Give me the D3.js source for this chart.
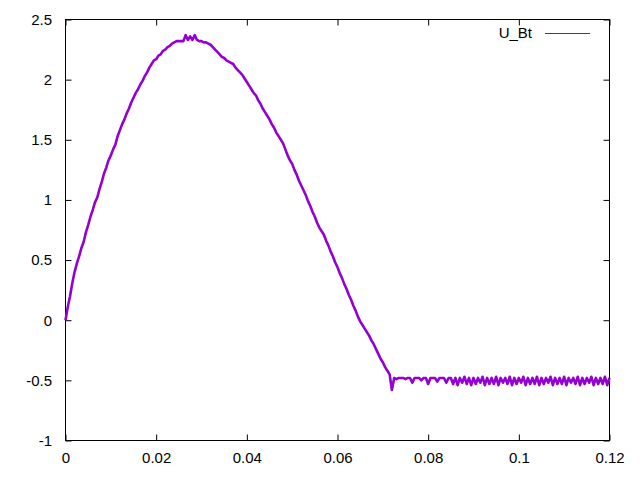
<!DOCTYPE html>
<html>
<head>
<meta charset="utf-8">
<script src="https://cdn.jsdelivr.net/npm/d3@7"></script>
<style>
html, body { margin: 0; padding: 0; background: #fff; }
svg { display: block; }
text { font-family: "Liberation Sans", Arial, sans-serif; }
</style>
</head>
<body>
<svg id="chart" width="640" height="480"></svg>
<script>
// ---- data ----
const seriesName = "U_Bt";
const sampleStep = 0.0005;        // seconds between samples
const uBt = [
  0.00, 0.11, 0.20, 0.31, 0.40, 0.47, 0.53, 0.60, 0.65, 0.73,
  0.79, 0.86, 0.915, 0.98, 1.02, 1.09, 1.15, 1.22, 1.27, 1.33,
  1.37, 1.42, 1.46, 1.53, 1.58, 1.63, 1.67, 1.72, 1.76, 1.81,
  1.85, 1.89, 1.92, 1.96, 1.99, 2.03, 2.06, 2.10, 2.13, 2.16,
  2.17, 2.20, 2.21, 2.24, 2.25, 2.27, 2.28, 2.30, 2.31, 2.32,
  2.32, 2.32, 2.32, 2.37, 2.33, 2.36, 2.33, 2.37, 2.33, 2.32,
  2.32, 2.31, 2.31, 2.30, 2.29, 2.27, 2.25, 2.23, 2.21, 2.19,
  2.18, 2.16, 2.15, 2.14, 2.13, 2.10, 2.08, 2.06, 2.04, 2.01,
  1.98, 1.95, 1.92, 1.89, 1.87, 1.83, 1.80, 1.76, 1.73, 1.70,
  1.67, 1.63, 1.60, 1.56, 1.53, 1.50, 1.47, 1.42, 1.37, 1.33,
  1.30, 1.25, 1.21, 1.16, 1.12, 1.08, 1.04, 0.99, 0.95, 0.90,
  0.86, 0.81, 0.77, 0.74, 0.71, 0.66, 0.62, 0.57, 0.53, 0.48,
  0.44, 0.39, 0.35, 0.30, 0.26, 0.21, 0.17, 0.12, 0.08, 0.03,
  -0.01, -0.04, -0.07, -0.10, -0.13, -0.17, -0.20, -0.24, -0.28, -0.32,
  -0.35, -0.39, -0.42, -0.45, -0.58, -0.48, -0.49, -0.48, -0.48, -0.48,
  -0.49, -0.48, -0.48, -0.52, -0.48, -0.48, -0.48, -0.50, -0.48, -0.48,
  -0.53, -0.48, -0.48, -0.48, -0.51, -0.48, -0.48, -0.48, -0.52, -0.48,
  -0.48, -0.53, -0.48, -0.54, -0.48, -0.52, -0.47, -0.53, -0.48, -0.54,
  -0.48, -0.53, -0.48, -0.52, -0.47, -0.54, -0.48, -0.53, -0.48, -0.53,
  -0.47, -0.54, -0.48, -0.52, -0.48, -0.53, -0.47, -0.54, -0.48, -0.53,
  -0.48, -0.52, -0.47, -0.54, -0.48, -0.53, -0.48, -0.53, -0.47, -0.54,
  -0.48, -0.53, -0.48, -0.52, -0.47, -0.54, -0.48, -0.53, -0.48, -0.53,
  -0.47, -0.54, -0.48, -0.52, -0.48, -0.53, -0.47, -0.54, -0.48, -0.53,
  -0.48, -0.52, -0.47, -0.54, -0.48, -0.53, -0.48, -0.53, -0.47, -0.54,
  -0.48
];
const xTicks = [0, 0.02, 0.04, 0.06, 0.08, 0.1, 0.12];
const yTicks = [-1, -0.5, 0, 0.5, 1, 1.5, 2, 2.5];
const xDomain = [0, 0.12];
const yDomain = [-1, 2.5];

// ---- layout ----
const m = { left: 65.5, right: 609.5, top: 19.5, bottom: 440.5 };
const lineColor = "#9400d3";
const fontSize = 15;
const tickLen = 6;

const svg = d3.select("#chart");
const x = d3.scaleLinear().domain(xDomain).range([m.left, m.right]);
const y = d3.scaleLinear().domain(yDomain).range([m.bottom, m.top]);

const fmt = d => String(+d.toFixed(4));

function styleAxis(g, showLabels) {
  g.select(".domain").remove();
  g.selectAll(".tick line").attr("stroke", "#000").attr("stroke-width", 1);
  g.selectAll(".tick text")
    .attr("fill", "#000")
    .style("font-size", fontSize + "px")
    .style("font-family", '"Liberation Sans", Arial, sans-serif');
  if (!showLabels) g.selectAll(".tick text").remove();
}

svg.append("g").attr("transform", `translate(0,${m.bottom})`)
  .call(d3.axisBottom(x).tickValues(xTicks).tickFormat(fmt).tickSizeInner(-tickLen).tickSizeOuter(0).tickPadding(11.5))
  .call(g => styleAxis(g, true));
svg.append("g").attr("transform", `translate(0,${m.top})`)
  .call(d3.axisTop(x).tickValues(xTicks).tickFormat(fmt).tickSizeInner(-tickLen).tickSizeOuter(0))
  .call(g => styleAxis(g, false));
svg.append("g").attr("transform", `translate(${m.left},0)`)
  .call(d3.axisLeft(y).tickValues(yTicks).tickFormat(fmt).tickSizeInner(-tickLen).tickSizeOuter(0).tickPadding(13.5))
  .call(g => styleAxis(g, true));
svg.append("g").attr("transform", `translate(${m.right},0)`)
  .call(d3.axisRight(y).tickValues(yTicks).tickFormat(fmt).tickSizeInner(-tickLen).tickSizeOuter(0))
  .call(g => styleAxis(g, false));

svg.append("rect")
  .attr("x", m.left).attr("y", m.top)
  .attr("width", m.right - m.left).attr("height", m.bottom - m.top)
  .attr("fill", "none").attr("stroke", "#000").attr("stroke-width", 1);

const pts = uBt.map((v, i) => ({ t: i * sampleStep, v }));
const line = d3.line().x(d => x(d.t)).y(d => y(d.v));
svg.append("path")
  .datum(pts)
  .attr("d", line)
  .attr("fill", "none")
  .attr("stroke", lineColor)
  .attr("stroke-width", 2.6)
  .attr("stroke-linejoin", "round")
  .attr("stroke-linecap", "butt");

const legY = 33;
svg.append("text")
  .attr("x", 532).attr("y", legY).attr("dy", "0.35em")
  .attr("text-anchor", "end")
  .style("font-size", fontSize + "px")
  .attr("fill", "#000")
  .text(seriesName);
svg.append("line")
  .attr("x1", 545).attr("x2", 590)
  .attr("y1", legY + 0.5).attr("y2", legY + 0.5)
  .attr("stroke", lineColor).attr("stroke-width", 1);
</script>
</body>
</html>
